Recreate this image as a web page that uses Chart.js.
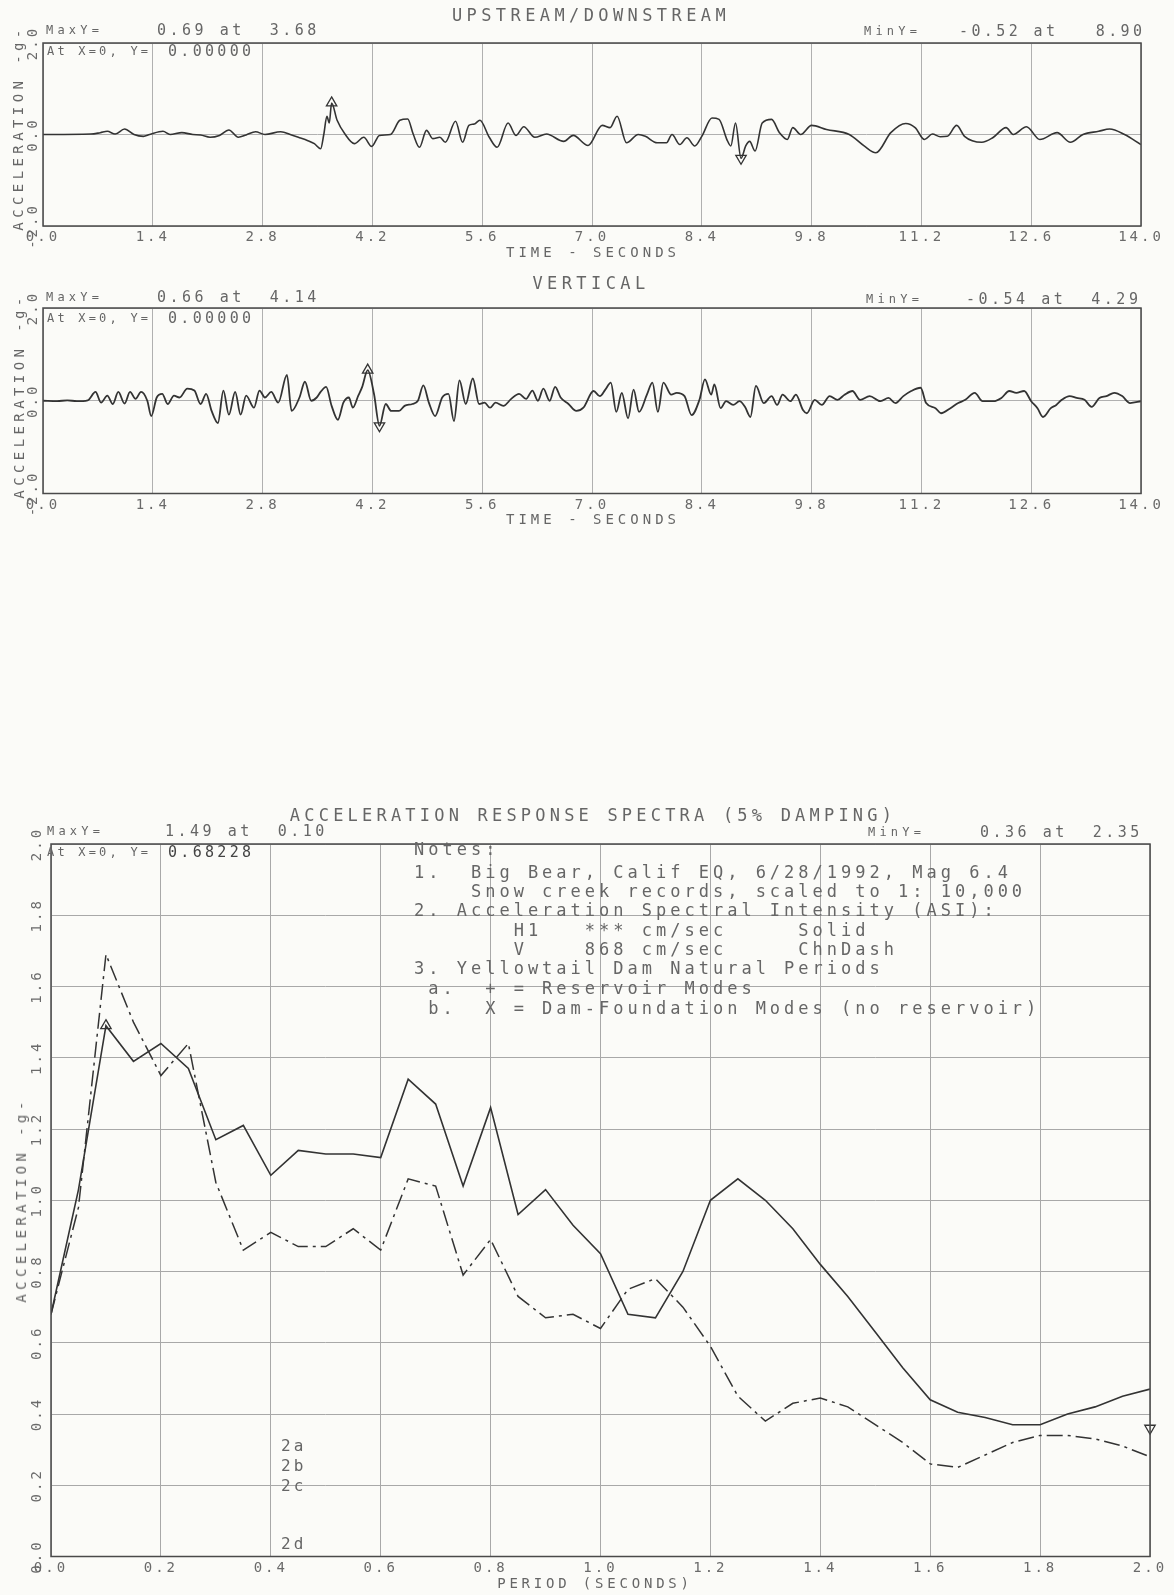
<!DOCTYPE html>
<html>
<head>
<meta charset="utf-8">
<script src="https://cdn.jsdelivr.net/npm/chart.js@4.4.1/dist/chart.umd.min.js"></script>
<style>
  html, body { margin: 0; padding: 0; background: #fbfbf8; }
  #page { position: relative; width: 1174px; height: 1595px; overflow: hidden;
          font-family: 'DejaVu Sans Mono', monospace; color: #666; }
  canvas { position: absolute; left: 0; }
  .t { position: absolute; white-space: pre; line-height: 1; }
</style>
</head>
<body>
<div id="page">
  <canvas id="usChart" width="1174" height="270" style="top:0px"></canvas>
  <canvas id="vtChart" width="1174" height="260" style="top:270px"></canvas>
  <canvas id="spChart" width="1174" height="795" style="top:800px"></canvas>
</div>
<script>
// ---- data ----
const timeTicks = [0, 1.4, 2.8, 4.2, 5.6, 7.0, 8.4, 9.8, 11.2, 12.6, 14.0];
const accTicks = [-2, 0, 2];

// upstream/downstream record
const usTime = [0, 0.61, 0.73, 0.82, 0.92, 1.04, 1.16, 1.28, 1.36, 1.53,
  1.62, 1.77, 1.91, 2.01, 2.13, 2.25, 2.37, 2.49, 2.59, 2.71,
  2.83, 3.03, 3.17, 3.27, 3.37, 3.46, 3.54, 3.58, 3.62, 3.65,
  3.68, 3.75, 3.85, 3.97, 4.09, 4.19, 4.29, 4.43, 4.55, 4.65,
  4.72, 4.80, 4.89, 4.97, 5.06, 5.13, 5.26, 5.35, 5.43, 5.50,
  5.57, 5.69, 5.79, 5.93, 6.03, 6.13, 6.27, 6.42, 6.64, 6.76,
  6.95, 7.13, 7.23, 7.32, 7.44, 7.59, 7.68, 7.83, 7.95, 8.02,
  8.12, 8.21, 8.31, 8.40, 8.53, 8.62, 8.72, 8.77, 8.83, 8.90,
  8.96, 9.01, 9.08, 9.17, 9.29, 9.39, 9.49, 9.56, 9.66, 9.80,
  9.99, 10.28, 10.47, 10.62, 10.81, 11.00, 11.12, 11.24, 11.34, 11.44,
  11.53, 11.65, 11.75, 11.97, 12.11, 12.28, 12.37, 12.54, 12.71, 12.93,
  13.10, 13.26, 13.46, 13.60, 13.79, 14.00];
const usAccel = [0, 0.01, 0.04, 0.07, 0.01, 0.12, 0, -0.04, 0, 0.07,
  0, 0.04, 0, -0.01, -0.06, -0.02, 0.10, -0.06, -0.01, 0.06,
  0, 0.06, -0.01, -0.07, -0.13, -0.20, -0.31, 0.0, 0.40, 0.25,
  0.69, 0.31, 0.01, -0.20, -0.06, -0.26, -0.02, 0, 0.31, 0.34,
  0.01, -0.28, 0.09, -0.09, -0.06, -0.17, 0.29, -0.17, 0.20, 0.23,
  0.31, -0.06, -0.28, 0.25, -0.02, 0.17, -0.06, 0.01, -0.15, -0.02,
  -0.24, 0.20, 0.15, 0.40, -0.18, 0, -0.04, -0.18, -0.18, 0,
  -0.22, -0.07, -0.25, -0.04, 0.36, 0.33, -0.11, -0.25, 0.25, -0.52,
  -0.25, -0.15, -0.36, 0.25, 0.33, 0.04, -0.11, 0.15, 0, 0.20,
  0.11, 0, -0.25, -0.40, 0.04, 0.24, 0.15, -0.11, 0.01, -0.05,
  -0.04, 0.20, -0.04, -0.17, -0.07, 0.15, 0, 0.17, -0.11, 0.04,
  -0.17, 0, 0.07, 0.12, 0, -0.22];
const usMarkT = [3.68, 8.90];
const usMarkA = [0.69, -0.52];

// vertical record
const vtTime = [0, 0.18, 0.31, 0.43, 0.57, 0.67, 0.74, 0.82, 0.89, 0.96,
  1.04, 1.11, 1.18, 1.25, 1.33, 1.38, 1.45, 1.52, 1.59, 1.67,
  1.74, 1.84, 1.93, 2.01, 2.08, 2.15, 2.23, 2.30, 2.37, 2.45,
  2.52, 2.59, 2.69, 2.76, 2.83, 2.91, 3.00, 3.11, 3.17, 3.27,
  3.34, 3.42, 3.49, 3.54, 3.61, 3.68, 3.76, 3.83, 3.90, 3.95,
  4.02, 4.07, 4.14, 4.22, 4.29, 4.37, 4.44, 4.54, 4.61, 4.71,
  4.78, 4.85, 4.92, 5.00, 5.09, 5.17, 5.24, 5.31, 5.39, 5.48,
  5.56, 5.63, 5.70, 5.77, 5.87, 5.97, 6.07, 6.16, 6.24, 6.31,
  6.38, 6.46, 6.53, 6.60, 6.70, 6.80, 6.89, 7.02, 7.10, 7.17,
  7.24, 7.31, 7.38, 7.46, 7.53, 7.60, 7.70, 7.77, 7.84, 7.91,
  8.01, 8.08, 8.18, 8.27, 8.37, 8.44, 8.52, 8.56, 8.64, 8.71,
  8.80, 8.88, 8.95, 9.02, 9.09, 9.19, 9.29, 9.36, 9.43, 9.53,
  9.60, 9.69, 9.74, 9.84, 9.93, 10.03, 10.13, 10.22, 10.32, 10.42,
  10.54, 10.68, 10.78, 10.87, 10.97, 11.07, 11.19, 11.26, 11.38, 11.45,
  11.57, 11.67, 11.76, 11.88, 11.98, 12.12, 12.22, 12.32, 12.41, 12.51,
  12.60, 12.68, 12.75, 12.85, 12.92, 12.99, 13.09, 13.18, 13.28, 13.37,
  13.47, 13.56, 13.66, 13.76, 13.86, 14.00];
const vtAccel = [0, -0.01, 0.01, -0.01, 0.01, 0.19, -0.04, 0.11, -0.07, 0.19,
  -0.06, 0.19, 0.04, 0.19, 0, -0.33, 0.07, 0.15, -0.07, 0.11,
  0.07, 0.26, 0.22, -0.07, 0.15, -0.22, -0.48, 0.22, -0.30, 0.19,
  -0.30, 0.11, -0.15, 0.22, 0.07, 0.19, -0.04, 0.56, -0.22, 0.07,
  0.41, 0, 0.07, 0.19, 0.30, -0.11, -0.41, -0.04, 0.07, -0.15,
  0.11, 0.30, 0.66, 0.15, -0.54, -0.07, -0.22, -0.22, -0.11, -0.07,
  0, 0.33, -0.04, -0.33, 0.07, 0.15, -0.44, 0.44, -0.07, 0.48,
  -0.07, -0.04, -0.15, -0.04, -0.11, 0.04, 0.15, 0.04, 0.22, 0,
  0.26, 0, 0.30, 0.07, -0.07, -0.22, -0.15, 0.21, 0.10, 0.24,
  0.39, -0.24, 0.17, -0.38, 0.24, -0.24, 0.13, 0.39, -0.24, 0.39,
  0.13, 0.17, 0.10, -0.31, 0.02, 0.46, 0.13, 0.35, -0.16, -0.01,
  -0.09, -0.01, -0.13, -0.35, 0.32, -0.05, 0.10, -0.09, 0.13, -0.01,
  0.13, -0.20, -0.27, 0.02, -0.09, 0.10, 0.02, 0.13, 0.21, 0.02,
  0.10, -0.01, 0.06, -0.05, 0.10, 0.21, 0.28, -0.05, -0.16, -0.27,
  -0.16, -0.05, 0.02, 0.17, -0.01, -0.01, 0.06, 0.21, 0.17, 0.21,
  -0.01, -0.16, -0.35, -0.16, -0.09, 0.02, 0.10, 0.06, 0.02, -0.13,
  0.06, 0.10, 0.17, 0.10, -0.05, -0.01];
const vtMarkT = [4.14, 4.29];
const vtMarkA = [0.66, -0.54];

// response spectra
const periodTicks = [0, 0.2, 0.4, 0.6, 0.8, 1.0, 1.2, 1.4, 1.6, 1.8, 2.0];
const specTicks = [0, 0.2, 0.4, 0.6, 0.8, 1.0, 1.2, 1.4, 1.6, 1.8, 2.0];
const periods = [0.00, 0.05, 0.10, 0.15, 0.20, 0.25, 0.30, 0.35, 0.40, 0.45,
  0.50, 0.55, 0.60, 0.65, 0.70, 0.75, 0.80, 0.85, 0.90, 0.95,
  1.00, 1.05, 1.10, 1.15, 1.20, 1.25, 1.30, 1.35, 1.40, 1.45,
  1.50, 1.55, 1.60, 1.65, 1.70, 1.75, 1.80, 1.85, 1.90, 1.95, 2.00];
const h1Spec = [0.68, 1.03, 1.49, 1.39, 1.44, 1.37, 1.17, 1.21, 1.07, 1.14,
  1.13, 1.13, 1.12, 1.34, 1.27, 1.04, 1.26, 0.96, 1.03, 0.93,
  0.85, 0.68, 0.67, 0.80, 1.00, 1.06, 1.00, 0.92, 0.82, 0.73,
  0.63, 0.53, 0.44, 0.405, 0.39, 0.37, 0.37, 0.40, 0.42, 0.45, 0.47];
const vSpec = [0.68, 0.98, 1.69, 1.50, 1.35, 1.44, 1.05, 0.86, 0.91, 0.87,
  0.87, 0.92, 0.86, 1.06, 1.04, 0.79, 0.89, 0.73, 0.67, 0.68,
  0.64, 0.75, 0.78, 0.70, 0.59, 0.45, 0.38, 0.43, 0.445, 0.42,
  0.37, 0.32, 0.26, 0.25, 0.285, 0.32, 0.34, 0.34, 0.33, 0.31, 0.28];
const specMarkT = [0.10, 2.0];
const specMarkA = [1.49, 0.36];

// ---- look ----
const FONT = "'DejaVu Sans Mono', monospace";
const INK = '#333';
const TEXT = '#6a6a6a';
const GRID = '#b0b0b0';

const plotterLook = {
  id: 'plotterLook',
  beforeDraw(chart) {
    chart.ctx.letterSpacing = '3px';
  },
  afterDraw(chart, args, opts) {
    const ctx = chart.ctx;
    const a = chart.chartArea;
    ctx.save();
    ctx.strokeStyle = '#4a4a4a';
    ctx.lineWidth = 1.5;
    ctx.strokeRect(a.left, a.top, a.right - a.left, a.bottom - a.top);
    // rotated y tick labels
    ctx.fillStyle = TEXT;
    ctx.font = '14px ' + FONT;
    ctx.letterSpacing = '3px';
    ctx.textAlign = 'center';
    ctx.textBaseline = 'middle';
    opts.ticks.forEach(v => {
      const y = chart.scales.y.getPixelForValue(v);
      ctx.save();
      ctx.translate(opts.labelX, y);
      ctx.rotate(-Math.PI / 2);
      ctx.fillText(v.toFixed(1), 0, 0);
      ctx.restore();
    });
    ctx.restore();
  }
};

function pts(xs, ys) {
  return xs.map((x, i) => ({ x: x, y: ys[i] }));
}

function markerSet(xs, ys) {
  return {
    data: pts(xs, ys),
    showLine: false,
    pointStyle: 'triangle',
    pointRadius: 6,
    pointRotation: [0, 180],
    borderColor: INK,
    backgroundColor: 'rgba(0,0,0,0)',
    pointBorderWidth: 1.3,
    clip: false
  };
}

function axisX(min, max, ticks, h, gridColor) {
  return {
    type: 'linear', min: min, max: max,
    afterBuildTicks: s => { s.ticks = ticks.map(v => ({ value: v })); },
    afterFit: s => { s.height = h; },
    grid: { color: gridColor, lineWidth: 1, drawTicks: false },
    border: { display: false },
    ticks: { autoSkip: false, maxRotation: 0, padding: 3, color: TEXT,
             font: { family: FONT, size: 14 }, callback: v => v.toFixed(1) }
  };
}

function axisY(min, max, ticks, w, gridColor) {
  return {
    type: 'linear', min: min, max: max,
    afterBuildTicks: s => { s.ticks = ticks.map(v => ({ value: v })); },
    afterFit: s => { s.width = w; },
    grid: { color: gridColor, lineWidth: 1, drawTicks: false },
    border: { display: false },
    ticks: { display: false }
  };
}

function historyChart(id, t, acc, markT, markA, xHeight, padTop, lineW) {
  return new Chart(document.getElementById(id), {
    type: 'line',
    data: {
      datasets: [
        { data: pts(t, acc), borderColor: INK, borderWidth: lineW, pointRadius: 0,
          cubicInterpolationMode: 'monotone', fill: false },
        markerSet(markT, markA)
      ]
    },
    options: {
      responsive: false, animation: false, events: [],
      layout: { padding: { left: 0, right: 33, top: padTop, bottom: 0 } },
      plugins: { legend: { display: false }, tooltip: { enabled: false },
                 plotterLook: { ticks: accTicks, labelX: 33 } },
      scales: {
        x: axisX(0, 14, timeTicks, xHeight, GRID),
        y: axisY(-2, 2, accTicks, 43, GRID)
      }
    },
    plugins: [plotterLook]
  });
}

historyChart('usChart', usTime, usAccel, usMarkT, usMarkA, 44, 43, 1.6);
historyChart('vtChart', vtTime, vtAccel, vtMarkT, vtMarkA, 36.5, 38, 1.8);

new Chart(document.getElementById('spChart'), {
  type: 'line',
  data: {
    datasets: [
      { data: pts(periods, h1Spec), borderColor: INK, borderWidth: 1.6,
        pointRadius: 0, tension: 0, fill: false },
      { data: pts(periods, vSpec), borderColor: INK, borderWidth: 1.5,
        borderDash: [16, 5, 3, 5], pointRadius: 0, tension: 0, fill: false },
      markerSet(specMarkT, specMarkA)
    ]
  },
  options: {
    responsive: false, animation: false, events: [],
    layout: { padding: { left: 0, right: 24, top: 44, bottom: 0 } },
    plugins: { legend: { display: false }, tooltip: { enabled: false },
               plotterLook: { ticks: specTicks, labelX: 37 } },
    scales: {
      x: axisX(0, 2, periodTicks, 38.5, '#a8a8a8'),
      y: axisY(0, 2, specTicks, 51, '#a8a8a8')
    }
  },
  plugins: [plotterLook]
});

// ---- text ----
const page = document.getElementById('page');
function txt(s, x, y, size, spacing, align, color) {
  const d = document.createElement('div');
  d.className = 't';
  d.textContent = s;
  d.style.left = x + 'px';
  d.style.top = y + 'px';
  d.style.fontSize = size + 'px';
  d.style.letterSpacing = spacing + 'px';
  if (color) d.style.color = color;
  const tx = align === 'center' ? '-50%' : (align === 'right' ? '-100%' : '0');
  d.style.transform = align === 'rot'
    ? 'translate(-50%,-50%) rotate(-90deg)'
    : 'translate(' + tx + ',-50%)';
  page.appendChild(d);
}

// upstream/downstream
txt('UPSTREAM/DOWNSTREAM', 591, 15, 17, 4.4, 'center');
txt('MaxY=', 46, 30, 12, 4.2);
txt('0.69 at  3.68', 157, 30, 15, 3.5);
txt('MinY=', 864, 31, 12, 4.2);
txt('-0.52 at   8.90', 959, 31, 15, 3.4);
txt('At X=0, Y=', 47, 51, 12, 3.2);
txt('0.00000', 168, 51, 15, 3.3);
txt('ACCELERATION -g-', 18, 128, 14, 4.4, 'rot');
txt('TIME - SECONDS', 593, 252, 14, 4, 'center');

// vertical
txt('VERTICAL', 591, 283, 17, 4.4, 'center');
txt('MaxY=', 46, 297, 12, 4.2);
txt('0.66 at  4.14', 157, 297, 15, 3.5);
txt('MinY=', 866, 299, 12, 4.2);
txt('-0.54 at  4.29', 966, 299, 15, 3.5);
txt('At X=0, Y=', 47, 318, 12, 3.2);
txt('0.00000', 168, 318, 15, 3.3);
txt('ACCELERATION -g-', 19, 396, 14, 4.4, 'rot');
txt('TIME - SECONDS', 593, 519, 14, 4, 'center');

// spectra
txt('ACCELERATION RESPONSE SPECTRA (5% DAMPING)', 593, 815, 17, 4.2, 'center');
txt('MaxY=', 47, 831, 12, 4.2);
txt('1.49 at  0.10', 165, 831, 15, 3.5);
txt('MinY=', 868, 832, 12, 4.2);
txt('0.36 at  2.35', 980, 832, 15, 3.5);
txt('At X=0, Y=', 47, 852, 12, 3.2);
txt('0.68228', 168, 852, 15, 3.3, 'left', '#444');
const notes = [
  ['Notes:', 849],
  ['1.  Big Bear, Calif EQ, 6/28/1992, Mag 6.4', 872],
  ['    Snow creek records, scaled to 1: 10,000', 891],
  ['2. Acceleration Spectral Intensity (ASI):', 910],
  ['       H1   *** cm/sec     Solid', 930],
  ['       V    868 cm/sec     ChnDash', 949],
  ['3. Yellowtail Dam Natural Periods', 968],
  [' a.  + = Reservoir Modes', 988],
  [' b.  X = Dam-Foundation Modes (no reservoir)', 1008]
];
notes.forEach(n => txt(n[0], 414, n[1], 17, 4));
txt('2a', 281, 1446, 16, 3);
txt('2b', 281, 1466, 16, 3);
txt('2c', 281, 1486, 16, 3);
txt('2d', 281, 1544, 16, 3);
txt('ACCELERATION -g-', 21, 1200, 14, 4.4, 'rot');
txt('PERIOD (SECONDS)', 595, 1583, 14, 3.8, 'center');
</script>
</body>
</html>
